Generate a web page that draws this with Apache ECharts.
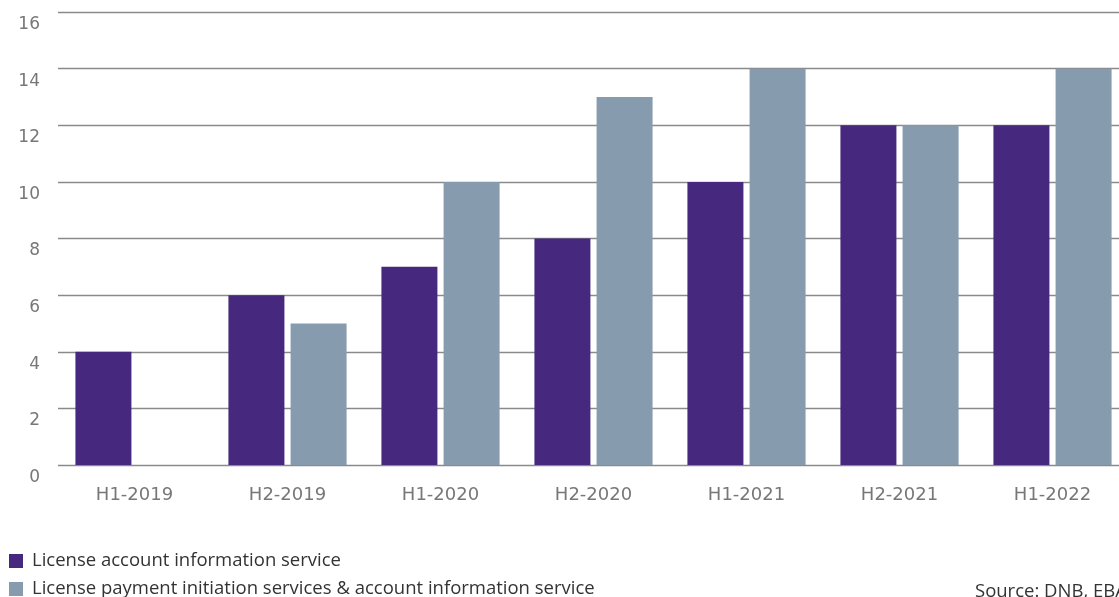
<!DOCTYPE html>
<html>
<head>
<meta charset="utf-8">
<script src="https://cdn.jsdelivr.net/npm/echarts@6/dist/echarts.min.js"></script>
<style>
  html, body { margin: 0; padding: 0; background: #fff; overflow: hidden; }
  /* the original plot runs past the right edge, so the canvas is a bit wider than the window */
  #chart { width: 1130px; height: 597px; }
</style>
</head>
<body>
<div id="chart"></div>
<script>
  // data
  const periods = ['H1-2019', 'H2-2019', 'H1-2020', 'H2-2020', 'H1-2021', 'H2-2021', 'H1-2022'];
  const accountInfo = [4, 6, 7, 8, 10, 12, 12];
  const paymentAndAccount = [0, 5, 10, 13, 14, 12, 14];
  const seriesNames = ['License account information service', 'License payment initiation services & account information service'];
  const sourceText = 'Source: DNB, EBA';

  const colors = ['#46297E', '#869BAE'];
  const chart = echarts.init(document.getElementById('chart'));

  // one legend per row, stacked like the original
  const legendRow = (name, top) => ({
    orient: 'vertical',
    left: 9,
    top: top,
    padding: 0,
    icon: 'rect',
    itemWidth: 14,
    itemHeight: 14,
    data: [name],
    textStyle: { fontFamily: 'Open Sans', fontSize: 18.5, lineHeight: 20, color: '#333', padding: [0, 0, 0, 4] }
  });

  const option = {
    animation: false,
    color: colors,
    grid: { left: 58, top: 12, width: 1071, height: 453 },
    legend: [legendRow(seriesNames[0], 551), legendRow(seriesNames[1], 579)],
    xAxis: {
      type: 'category',
      data: periods,
      axisLine: { show: false },
      axisTick: { show: false },
      axisLabel: { margin: 21, fontFamily: 'DejaVu Sans', fontSize: 18, color: '#777' }
    },
    yAxis: {
      type: 'value',
      min: 0,
      max: 16,
      interval: 2,
      axisLine: { show: false },
      axisTick: { show: false },
      splitLine: { lineStyle: { color: '#8a8a8a', width: 1.3 } },
      axisLabel: {
        margin: 18, verticalAlign: 'top', padding: [4, 0, 0, 0],
        fontFamily: 'DejaVu Sans', fontSize: 17, color: '#777'
      }
    },
    series: [
      { name: seriesNames[0], type: 'bar', data: accountInfo, barWidth: 56, barGap: '11%', z: 3 },
      { name: seriesNames[1], type: 'bar', data: paymentAndAccount, barWidth: 56, barGap: '11%', z: 3 }
    ],
    graphic: [
      {
        type: 'text',
        left: 975,
        top: 582,
        style: { text: sourceText, font: '18.5px "Open Sans"', fill: '#333' }
      }
    ]
  };

  chart.setOption(option);
</script>
</body>
</html>
